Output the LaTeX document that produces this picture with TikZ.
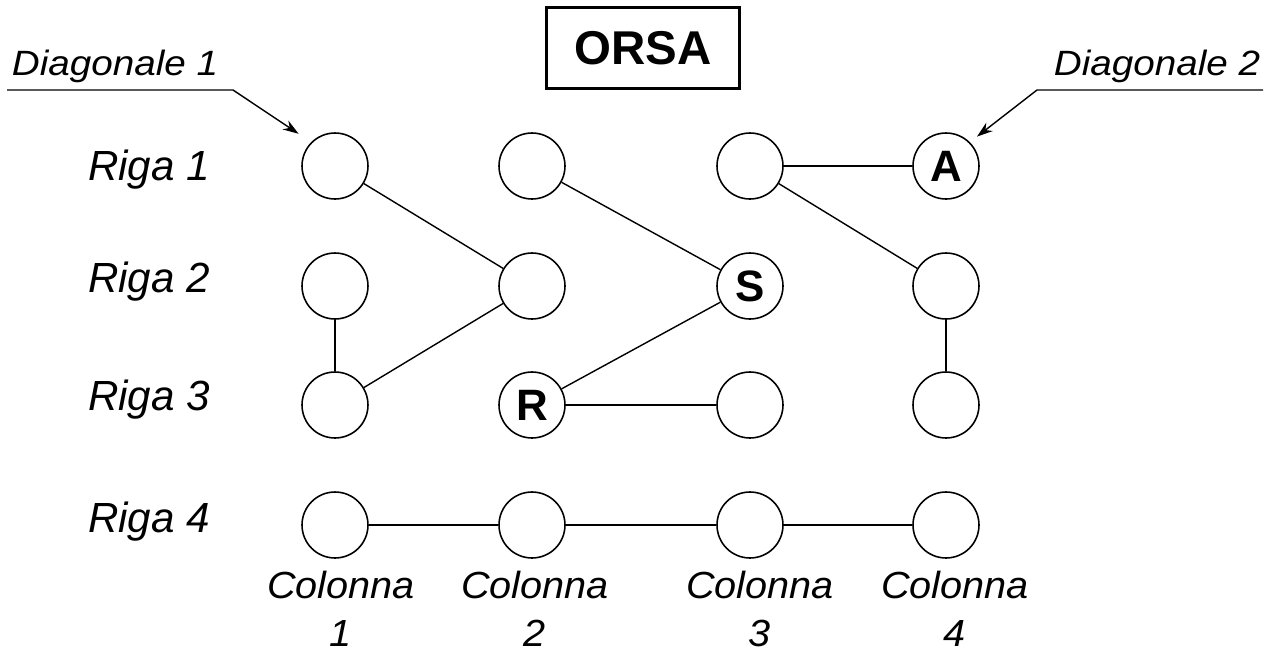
\documentclass[tikz,border=0pt]{standalone}
\usepackage{fontspec}
\setmainfont{Liberation Sans}
\newfontfamily\widefont{Liberation Sans}[FakeStretch=1.1]
\newfontfamily\colfont{Liberation Sans}[FakeStretch=1.05]
\usetikzlibrary{arrows.meta}

\begin{document}
\begin{tikzpicture}[
            x=0.02cm, y=-0.02cm,
            cell/.style={circle,draw,line width=0.9pt,minimum size=1.32cm,inner sep=0pt,
                         font=\fontsize{25}{25}\selectfont\bfseries},
            link/.style={line width=0.8pt},
            pointer/.style={line width=0.8pt,-{Stealth[length=9pt,width=6pt]}},
            riga/.style={anchor=base,font=\fontsize{24}{24}\selectfont\itshape},
            colonna/.style={anchor=base,align=center,inner sep=1pt,
                            font=\fontsize{21.5}{27}\selectfont\colfont\itshape},
            diag/.style={anchor=base,font=\fontsize{20}{20}\selectfont\widefont\itshape},
            title/.style={draw,line width=1.7pt,minimum width=3.86cm,minimum height=1.62cm,
                          inner sep=0pt,font=\fontsize{27}{27}\selectfont\bfseries},
            ]
            \useasboundingbox (0,0) rectangle (1276,653);

            % title
            \node[title] (orsa) at (643,48) {ORSA};

            % row labels
            \node[riga] (r1) at (149,180) {Riga 1};
            \node[riga] (r2) at (149,292) {Riga 2};
            \node[riga] (r3) at (149,410) {Riga 3};
            \node[riga] (r4) at (149,532) {Riga 4};

            % column labels (base = last line)
            \node[colonna] (k1) at (341,646) {Colonna\\1};
            \node[colonna] (k2) at (535,646) {Colonna\\2};
            \node[colonna] (k3) at (760,646) {Colonna\\3};
            \node[colonna] (k4) at (955,646) {Colonna\\4};

            % board
            \node[cell] (c1r1) at (335,166) {};
            \node[cell] (c2r1) at (532,166) {};
            \node[cell] (c3r1) at (750,166) {};
            \node[cell] (c4r1) at (946,166) {A};
            \node[cell] (c1r2) at (335,286) {};
            \node[cell] (c2r2) at (532,286) {};
            \node[cell] (c3r2) at (750,286) {S};
            \node[cell] (c4r2) at (946,286) {};
            \node[cell] (c1r3) at (335,405) {};
            \node[cell] (c2r3) at (532,405) {R};
            \node[cell] (c3r3) at (750,405) {};
            \node[cell] (c4r3) at (946,405) {};
            \node[cell] (c1r4) at (335,525) {};
            \node[cell] (c2r4) at (532,525) {};
            \node[cell] (c3r4) at (750,525) {};
            \node[cell] (c4r4) at (946,525) {};

            \draw[link] (c1r1) -- (c2r2);
            \draw[link] (c1r2) -- (c1r3);
            \draw[link] (c1r3) -- (c2r2);
            \draw[link] (c2r1) -- (c3r2);
            \draw[link] (c3r2) -- (c2r3);
            \draw[link] (c2r3) -- (c3r3);
            \draw[link] (c3r1) -- (c4r1);
            \draw[link] (c3r1) -- (c4r2);
            \draw[link] (c4r2) -- (c4r3);
            \draw[link] (c1r4) -- (c2r4) -- (c3r4) -- (c4r4);

            % diagonals
            \node[diag] (d1) at (115,75) {Diagonale 1};
            \node[diag] (d2) at (1157,75) {Diagonale 2};
            \coordinate (d1a) at (7,90);
            \coordinate (d1b) at (233,90);
            \coordinate (d2a) at (1263,90);
            \coordinate (d2b) at (1037,90);
            \draw[pointer, shorten >=0.3cm] (d1a) -- (d1b) -- (c1r1.north west);
            \draw[pointer, shorten >=0.18cm] (d2a) -- (d2b) -- (c4r1.north east);
        \end{tikzpicture}
\end{document}
